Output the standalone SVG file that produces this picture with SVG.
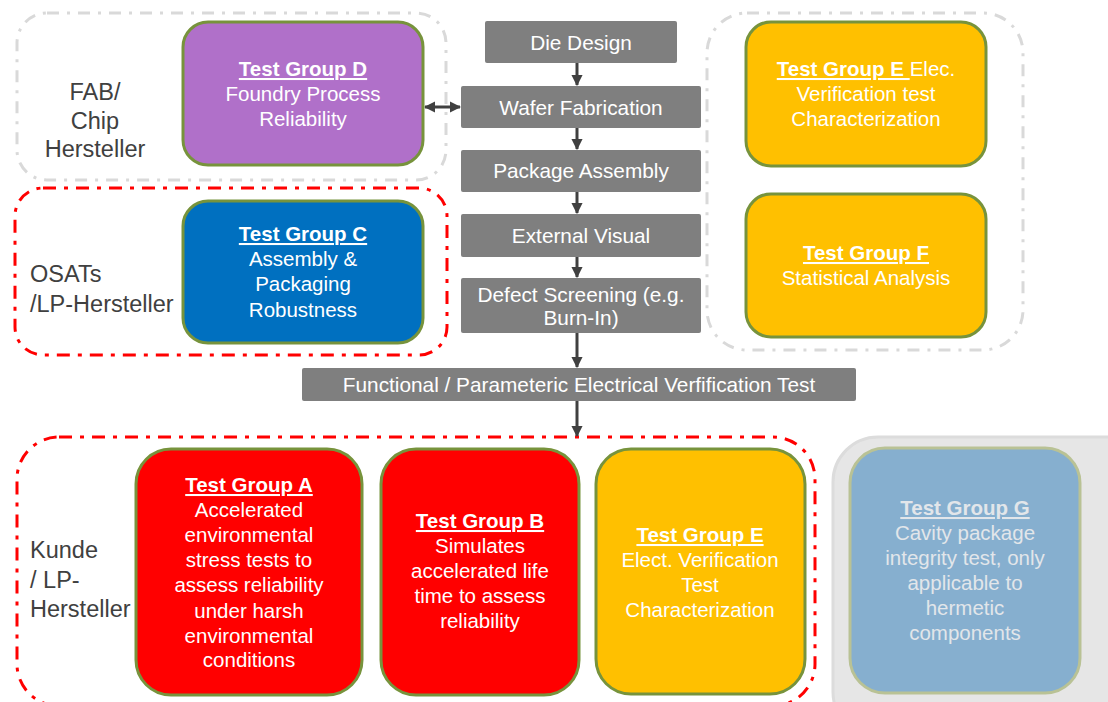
<svg xmlns="http://www.w3.org/2000/svg" width="1108" height="702" viewBox="0 0 1108 702">
  <style>
    text { font-family: "Liberation Sans", Arial, sans-serif; }
    .lbl { font-size: 23.5px; fill: #404040; }
    .box { font-size: 20.5px; fill: #ffffff; text-anchor: middle; }
    .ttl { font-weight: bold; text-decoration: underline; }
    .flow { fill: #7f7f7f; }
    .flowtxt { font-size: 20.8px; fill: #ffffff; text-anchor: middle; }
    .grp { stroke: #77933c; stroke-width: 3; }
    .zone-gray { fill: none; stroke: #d9d9d9; stroke-width: 3; stroke-dasharray: 12 8 3 8; }
    .zone-red { fill: none; stroke: #ff0000; stroke-width: 3; stroke-dasharray: 13 8 4 8; }
    .conn { stroke: #404040; stroke-width: 3; fill: none; }
  </style>
  <defs>
    <marker id="arr" viewBox="0 0 10 10" refX="9" refY="5" markerWidth="3.7" markerHeight="3.7" orient="auto-start-reverse" markerUnits="strokeWidth">
      <path d="M0,0 L10,5 L0,10 z" fill="#404040"/>
    </marker>
  </defs>

  <!-- organisational zones -->
  <g id="zone-fab">
    <rect class="zone-gray" x="17" y="13" width="429" height="167" rx="30"/>
    <text class="lbl" text-anchor="middle"><tspan x="95" y="100">FAB/</tspan><tspan x="95" y="129">Chip</tspan><tspan x="95" y="157">Hersteller</tspan></text>
  </g>
  <g id="zone-osat">
    <rect class="zone-red" x="15" y="188" width="432" height="167" rx="28"/>
    <text class="lbl"><tspan x="30" y="282">OSATs</tspan><tspan x="30" y="312">/LP-Hersteller</tspan></text>
  </g>
  <g id="zone-supplier">
    <rect class="zone-gray" x="707" y="13" width="316" height="337" rx="40"/>
  </g>
  <g id="zone-customer">
    <rect class="zone-red" x="17" y="437" width="798" height="269" rx="42"/>
    <text class="lbl"><tspan x="30" y="558">Kunde</tspan><tspan x="30" y="588">/ LP-</tspan><tspan x="30" y="617">Hersteller</tspan></text>
  </g>
  <g id="zone-hermetic">
    <rect x="833" y="437" width="320" height="300" rx="45" fill="#e6e6e6" stroke="#dcdcdc" stroke-width="3"/>
  </g>

  <!-- connectors -->
  <g id="connectors">
    <line class="conn" x1="577" y1="63" x2="577" y2="85" marker-end="url(#arr)"/>
    <line class="conn" x1="577" y1="128" x2="577" y2="149" marker-end="url(#arr)"/>
    <line class="conn" x1="577" y1="192" x2="577" y2="213" marker-end="url(#arr)"/>
    <line class="conn" x1="577" y1="257" x2="577" y2="277" marker-end="url(#arr)"/>
    <line class="conn" x1="577" y1="333" x2="577" y2="367" marker-end="url(#arr)"/>
    <line class="conn" x1="577" y1="401" x2="577" y2="436" marker-end="url(#arr)"/>
    <line class="conn" x1="425" y1="107" x2="460" y2="107" marker-start="url(#arr)" marker-end="url(#arr)"/>
  </g>

  <!-- process flow -->
  <g id="die-design">
    <rect class="flow" x="485" y="21" width="192" height="42" rx="2"/>
    <text class="flowtxt" x="581" y="50">Die Design</text>
  </g>
  <g id="wafer-fabrication">
    <rect class="flow" x="461" y="86" width="240" height="42" rx="2"/>
    <text class="flowtxt" x="581" y="115">Wafer Fabrication</text>
  </g>
  <g id="package-assembly">
    <rect class="flow" x="461" y="150" width="240" height="42" rx="2"/>
    <text class="flowtxt" x="581" y="178">Package Assembly</text>
  </g>
  <g id="external-visual">
    <rect class="flow" x="461" y="214" width="240" height="43" rx="2"/>
    <text class="flowtxt" x="581" y="243">External Visual</text>
  </g>
  <g id="defect-screening">
    <rect class="flow" x="461" y="278" width="240" height="55" rx="2"/>
    <text class="flowtxt"><tspan x="581" y="302">Defect Screening (e.g.</tspan><tspan x="581" y="325">Burn-In)</tspan></text>
  </g>
  <g id="functional-test">
    <rect class="flow" x="302" y="368" width="554" height="33" rx="2"/>
    <text class="flowtxt" x="579" y="392">Functional / Parameteric Electrical Verfification Test</text>
  </g>

  <!-- test groups -->
  <g id="test-group-d">
    <rect class="grp" x="183" y="22" width="240" height="143" rx="25" fill="#b070c9"/>
    <text class="box"><tspan class="ttl" x="303" y="76">Test Group D</tspan><tspan x="303" y="101">Foundry Process</tspan><tspan x="303" y="126">Reliability</tspan></text>
  </g>
  <g id="test-group-c">
    <rect class="grp" x="183" y="201" width="240" height="142" rx="25" fill="#0070c0"/>
    <text class="box"><tspan class="ttl" x="303" y="241">Test Group C</tspan><tspan x="303" y="266">Assembly &amp;</tspan><tspan x="303" y="291">Packaging</tspan><tspan x="303" y="317">Robustness</tspan></text>
  </g>
  <g id="test-group-e-top">
    <rect class="grp" x="746" y="22" width="240" height="144" rx="25" fill="#ffc000"/>
    <text class="box"><tspan x="866" y="76"><tspan class="ttl">Test Group E&#160;</tspan>Elec.</tspan><tspan x="866" y="101">Verification test</tspan><tspan x="866" y="126">Characterization</tspan></text>
  </g>
  <g id="test-group-f">
    <rect class="grp" x="746" y="194" width="240" height="143" rx="25" fill="#ffc000"/>
    <text class="box"><tspan class="ttl" x="866" y="260">Test Group F</tspan><tspan x="866" y="285">Statistical Analysis</tspan></text>
  </g>
  <g id="test-group-a">
    <rect class="grp" x="136" y="449" width="226" height="246" rx="35" fill="#ff0000"/>
    <text class="box"><tspan class="ttl" x="249" y="492">Test Group A</tspan><tspan x="249" y="517">Accelerated</tspan><tspan x="249" y="542">environmental</tspan><tspan x="249" y="567">stress tests to</tspan><tspan x="249" y="592">assess reliability</tspan><tspan x="249" y="618">under harsh</tspan><tspan x="249" y="643">environmental</tspan><tspan x="249" y="667">conditions</tspan></text>
  </g>
  <g id="test-group-b">
    <rect class="grp" x="381" y="449" width="198" height="246" rx="35" fill="#ff0000"/>
    <text class="box"><tspan class="ttl" x="480" y="528">Test Group B</tspan><tspan x="480" y="553">Simulates</tspan><tspan x="480" y="578">accelerated life</tspan><tspan x="480" y="603">time to assess</tspan><tspan x="480" y="628">reliability</tspan></text>
  </g>
  <g id="test-group-e-bottom">
    <rect class="grp" x="596" y="449" width="209" height="245" rx="35" fill="#ffc000"/>
    <text class="box"><tspan class="ttl" x="700" y="542">Test Group E</tspan><tspan x="700" y="567">Elect. Verification</tspan><tspan x="700" y="592">Test</tspan><tspan x="700" y="617">Characterization</tspan></text>
  </g>
  <g id="test-group-g">
    <rect x="850" y="448" width="230" height="245" rx="35" fill="#86afcf" stroke="#b9c295" stroke-width="3"/>
    <text class="box" style="fill:#e2e6ea"><tspan class="ttl" x="965" y="515">Test Group G</tspan><tspan x="965" y="540">Cavity package</tspan><tspan x="965" y="565">integrity test, only</tspan><tspan x="965" y="590">applicable to</tspan><tspan x="965" y="615">hermetic</tspan><tspan x="965" y="640">components</tspan></text>
  </g>
</svg>
